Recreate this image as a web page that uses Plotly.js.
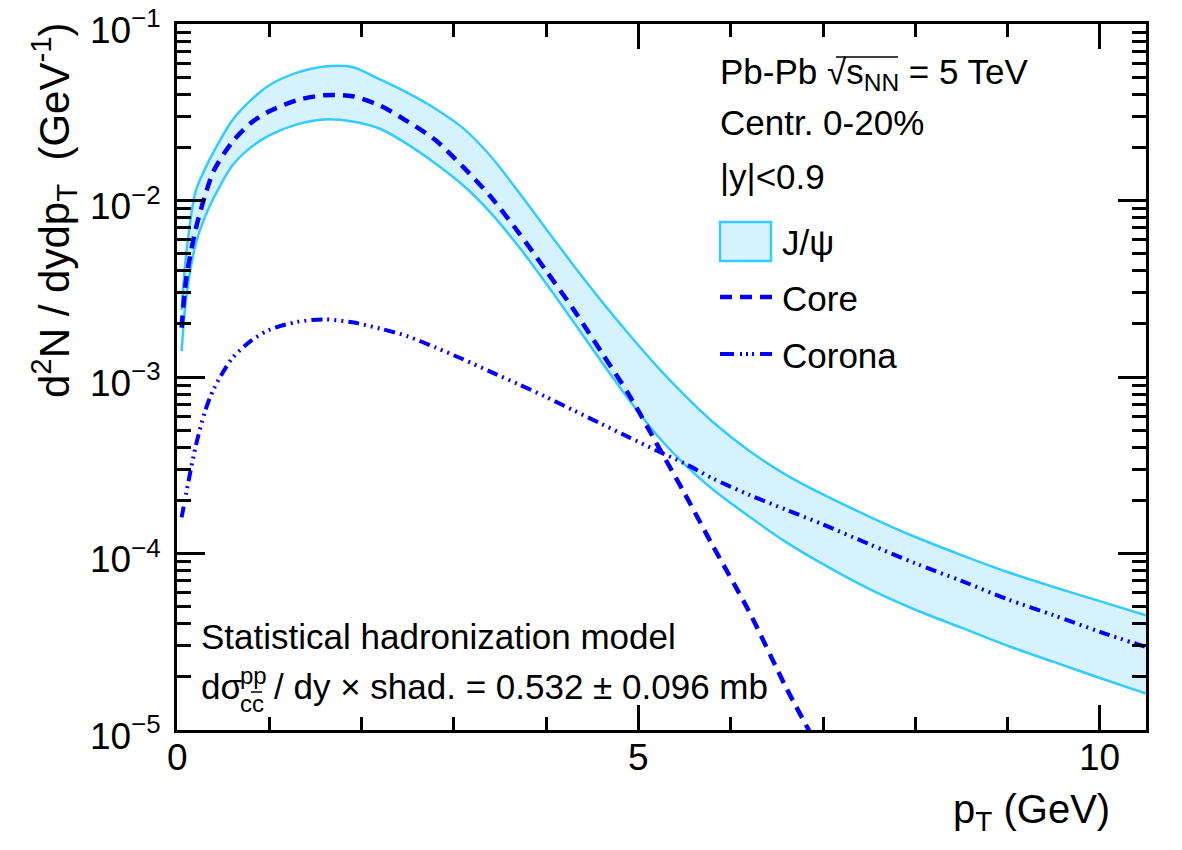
<!DOCTYPE html>
<html>
<head>
<meta charset="utf-8">
<script src="https://cdn.plot.ly/plotly-3.0.1.min.js"></script>
<style>html,body{margin:0;padding:0;background:#fff;}#chart{width:1182px;height:850px;}</style>
</head>
<body>
<div id="chart"></div>
<script>
// ---- data ----
const ptBand = [0.05, 0.1, 0.2, 0.3, 0.4, 0.6, 0.8, 1.0, 1.3, 1.6, 1.9, 2.2, 2.5, 2.8, 3.1, 3.4, 3.7, 4.0, 4.3, 4.6, 4.9, 5.2, 5.5, 5.8, 6.2, 6.6, 7.0, 7.5, 8.0, 8.5, 9.0, 9.5, 10.0, 10.5];
const jpsiUpper = [2.4e-3, 5.0e-3, 1.12e-2, 1.5e-2, 1.9e-2, 2.85e-2, 3.7e-2, 4.5e-2, 5.3e-2, 5.75e-2, 5.7e-2, 4.85e-2, 4.07e-2, 3.31e-2, 2.57e-2, 1.78e-2, 1.12e-2, 6.9e-3, 4.27e-3, 2.69e-3, 1.74e-3, 1.15e-3, 7.9e-4, 5.6e-4, 3.82e-4, 2.79e-4, 2.16e-4, 1.62e-4, 1.24e-4, 9.8e-5, 7.85e-5, 6.46e-5, 5.37e-5, 4.47e-5];
const jpsiLower = [1.4e-3, 2.8e-3, 5.6e-3, 8.0e-3, 1.04e-2, 1.58e-2, 2.0e-2, 2.34e-2, 2.7e-2, 2.88e-2, 2.8e-2, 2.55e-2, 2.08e-2, 1.62e-2, 1.22e-2, 8.5e-3, 5.5e-3, 3.39e-3, 2.04e-3, 1.22e-3, 7.4e-4, 4.68e-4, 3.2e-4, 2.32e-4, 1.62e-4, 1.16e-4, 8.7e-5, 6.3e-5, 4.8e-5, 3.8e-5, 3.0e-5, 2.43e-5, 1.97e-5, 1.61e-5];
const ptCore = [0.05, 0.1, 0.2, 0.3, 0.4, 0.6, 0.8, 1.0, 1.3, 1.6, 1.9, 2.2, 2.5, 2.8, 3.1, 3.4, 3.7, 4.0, 4.3, 4.6, 4.9, 5.2, 5.5, 5.8, 6.2, 6.6, 7.0];
const core = [1.9e-3, 3.6e-3, 6.8e-3, 1.05e-2, 1.48e-2, 2.15e-2, 2.75e-2, 3.2e-2, 3.7e-2, 3.95e-2, 3.9e-2, 3.45e-2, 2.8e-2, 2.2e-2, 1.55e-2, 1.05e-2, 6.6e-3, 4.0e-3, 2.4e-3, 1.38e-3, 7.9e-4, 4.17e-4, 2.19e-4, 1.12e-4, 4.68e-5, 1.74e-5, 7.1e-6];
const ptCorona = ptBand;
const corona = [1.6e-4, 2.2e-4, 4.0e-4, 6.3e-4, 8.6e-4, 1.28e-3, 1.6e-3, 1.85e-3, 2.05e-3, 2.12e-3, 2.04e-3, 1.88e-3, 1.7e-3, 1.47e-3, 1.26e-3, 1.07e-3, 9.1e-4, 7.7e-4, 6.46e-4, 5.42e-4, 4.55e-4, 3.82e-4, 3.24e-4, 2.67e-4, 2.15e-4, 1.77e-4, 1.46e-4, 1.13e-4, 8.8e-5, 7.0e-5, 5.5e-5, 4.47e-5, 3.6e-5, 2.95e-5];
const xTickVals = [0, 5, 10];
const xTickText = ['0', '5', '10'];
const yTickVals = [1e-5, 1e-4, 1e-3, 1e-2, 1e-1];
const yTickText = ['10<sup>\u22125</sup>', '10<sup>\u22124</sup>', '10<sup>\u22123</sup>', '10<sup>\u22122</sup>', '10<sup>\u22121</sup>'];
const legendLabels = ['J/\u03C8', 'Core', 'Corona'];

// ---- styles ----
const FONT = 'Liberation Sans, Arial, Helvetica, sans-serif';
const BAND_LINE = '#33ccff';
const BAND_FILL = 'rgba(214,242,252,1)';
const BLUE = '#0000ff';
const CORE_DASH = '12px,8px';
const CORONA_DASH = '11px,5px,2px,5px,2px,5px,2px,5px';
const TICK_SIZE = 37;

// plot-area pixel geometry
const W = 1182, H = 850, L = 177, R = 1146, T = 24, B = 730;
const px = v => (v - L) / (R - L);
const py = v => (B - v) / (B - T);

const smooth = {shape: 'spline', smoothing: 0.8};
const traces = [
  {x: ptBand, y: jpsiLower, type: 'scatter', mode: 'lines', line: Object.assign({color: BAND_LINE, width: 2.5}, smooth), showlegend: false, hoverinfo: 'skip'},
  {x: ptBand, y: jpsiUpper, type: 'scatter', mode: 'lines', fill: 'tonexty', fillcolor: BAND_FILL, line: Object.assign({color: BAND_LINE, width: 2.5}, smooth), showlegend: false, hoverinfo: 'skip'},
  {x: ptCore, y: core, type: 'scatter', mode: 'lines', line: Object.assign({color: BLUE, width: 4.5, dash: CORE_DASH}, smooth), showlegend: false},
  {x: ptCorona, y: corona, type: 'scatter', mode: 'lines', line: Object.assign({color: BLUE, width: 4, dash: CORONA_DASH}, smooth), showlegend: false}
];

const txt = (text, x, y, size, xanchor, extra) => Object.assign({
  text: text, xref: 'paper', yref: 'paper', x: px(x), y: py(y), xanchor: xanchor || 'left', yanchor: 'middle',
  showarrow: false, font: {family: FONT, size: size || 35, color: '#000'}
}, extra || {});

const annotations = [
  txt('Pb-Pb \u221As<sub>NN</sub> = 5 TeV', 718, 74, 35),
  txt('Centr. 0-20%', 718, 123, 35),
  txt('|y|<0.9', 718, 176, 35),
  txt(legendLabels[0], 780, 242, 35),
  txt(legendLabels[1], 780, 298, 35),
  txt(legendLabels[2], 780, 355, 35),
  txt('Statistical hadronization model', 199, 636, 35),
  txt('d\u03C3', 199, 686, 35),
  txt('pp', 238, 675, 24),
  txt('cc', 238, 703, 24),
  txt('/ dy \u00D7 shad. = 0.532 \u00B1 0.096 mb', 272, 686, 35),
  txt('p<sub>T</sub> (GeV)', 1112, 812, 40, 'right'),
  txt('d<sup>2</sup>N / dydp<sub>T</sub>  (GeV<sup>-1</sup>)', 54, 20, 42, 'center', {textangle: -90, yanchor: 'top'})
];
// x tick labels placed through the x scale
xTickVals.forEach((v, i) => annotations.push({
  text: xTickText[i], xref: 'x', yref: 'paper', x: v, y: py(757), xanchor: 'center', yanchor: 'middle',
  showarrow: false, font: {family: FONT, size: TICK_SIZE, color: '#000'}
}));

const shapes = [
  {type: 'rect', xref: 'paper', yref: 'paper', x0: px(720), x1: px(771), y0: py(222), y1: py(261), fillcolor: BAND_FILL, line: {color: BAND_LINE, width: 2.5}},
  {type: 'line', xref: 'paper', yref: 'paper', x0: px(720), x1: px(772), y0: py(297), y1: py(297), line: {color: BLUE, width: 4.5, dash: CORE_DASH}},
  {type: 'line', xref: 'paper', yref: 'paper', x0: px(720), x1: px(772), y0: py(354), y1: py(354), line: {color: BLUE, width: 4, dash: '14px,6px,2px,4px,2px,4px,2px,6px,14px'}},
  // overline of the square root
  {type: 'line', xref: 'paper', yref: 'paper', x0: px(836), x1: px(898), y0: py(57), y1: py(57), line: {color: '#000', width: 1.5}},
  // bar over the anti-charm quark
  {type: 'line', xref: 'paper', yref: 'paper', x0: px(251), x1: px(262), y0: py(692), y1: py(692), line: {color: '#000', width: 1.5}}
];

const axisCommon = {
  showline: true, linecolor: '#000', linewidth: 3, mirror: 'allticks',
  ticks: 'inside', tickcolor: '#000', tickwidth: 3,
  showgrid: false, zeroline: false,
  tickfont: {family: FONT, size: TICK_SIZE, color: '#000'}
};

const layout = {
  width: W, height: H,
  margin: {l: L, r: W - R, t: T, b: H - B, pad: 0},
  paper_bgcolor: '#fff', plot_bgcolor: '#fff',
  showlegend: false,
  xaxis: Object.assign({}, axisCommon, {
    range: [0, 10.5], tickmode: 'array', tickvals: xTickVals, ticktext: xTickText, ticklen: 25,
    showticklabels: false,
    minor: {dtick: 1, tick0: 0, ticks: 'inside', ticklen: 13, tickwidth: 3, tickcolor: '#000', showgrid: false}
  }),
  yaxis: Object.assign({}, axisCommon, {
    type: 'log', range: [-5.00001, -0.99999], tickmode: 'array', tickvals: yTickVals, ticktext: yTickText, ticklen: 28,
    ticklabelstandoff: 6, ticklabelshift: 6, ticklabeloverflow: 'allow',
    minor: {dtick: 'D1', ticks: 'inside', ticklen: 14, tickwidth: 3, tickcolor: '#000', showgrid: false}
  }),
  annotations: annotations,
  shapes: shapes
};

Plotly.newPlot('chart', traces, layout, {staticPlot: true, displayModeBar: false});
</script>
</body>
</html>
